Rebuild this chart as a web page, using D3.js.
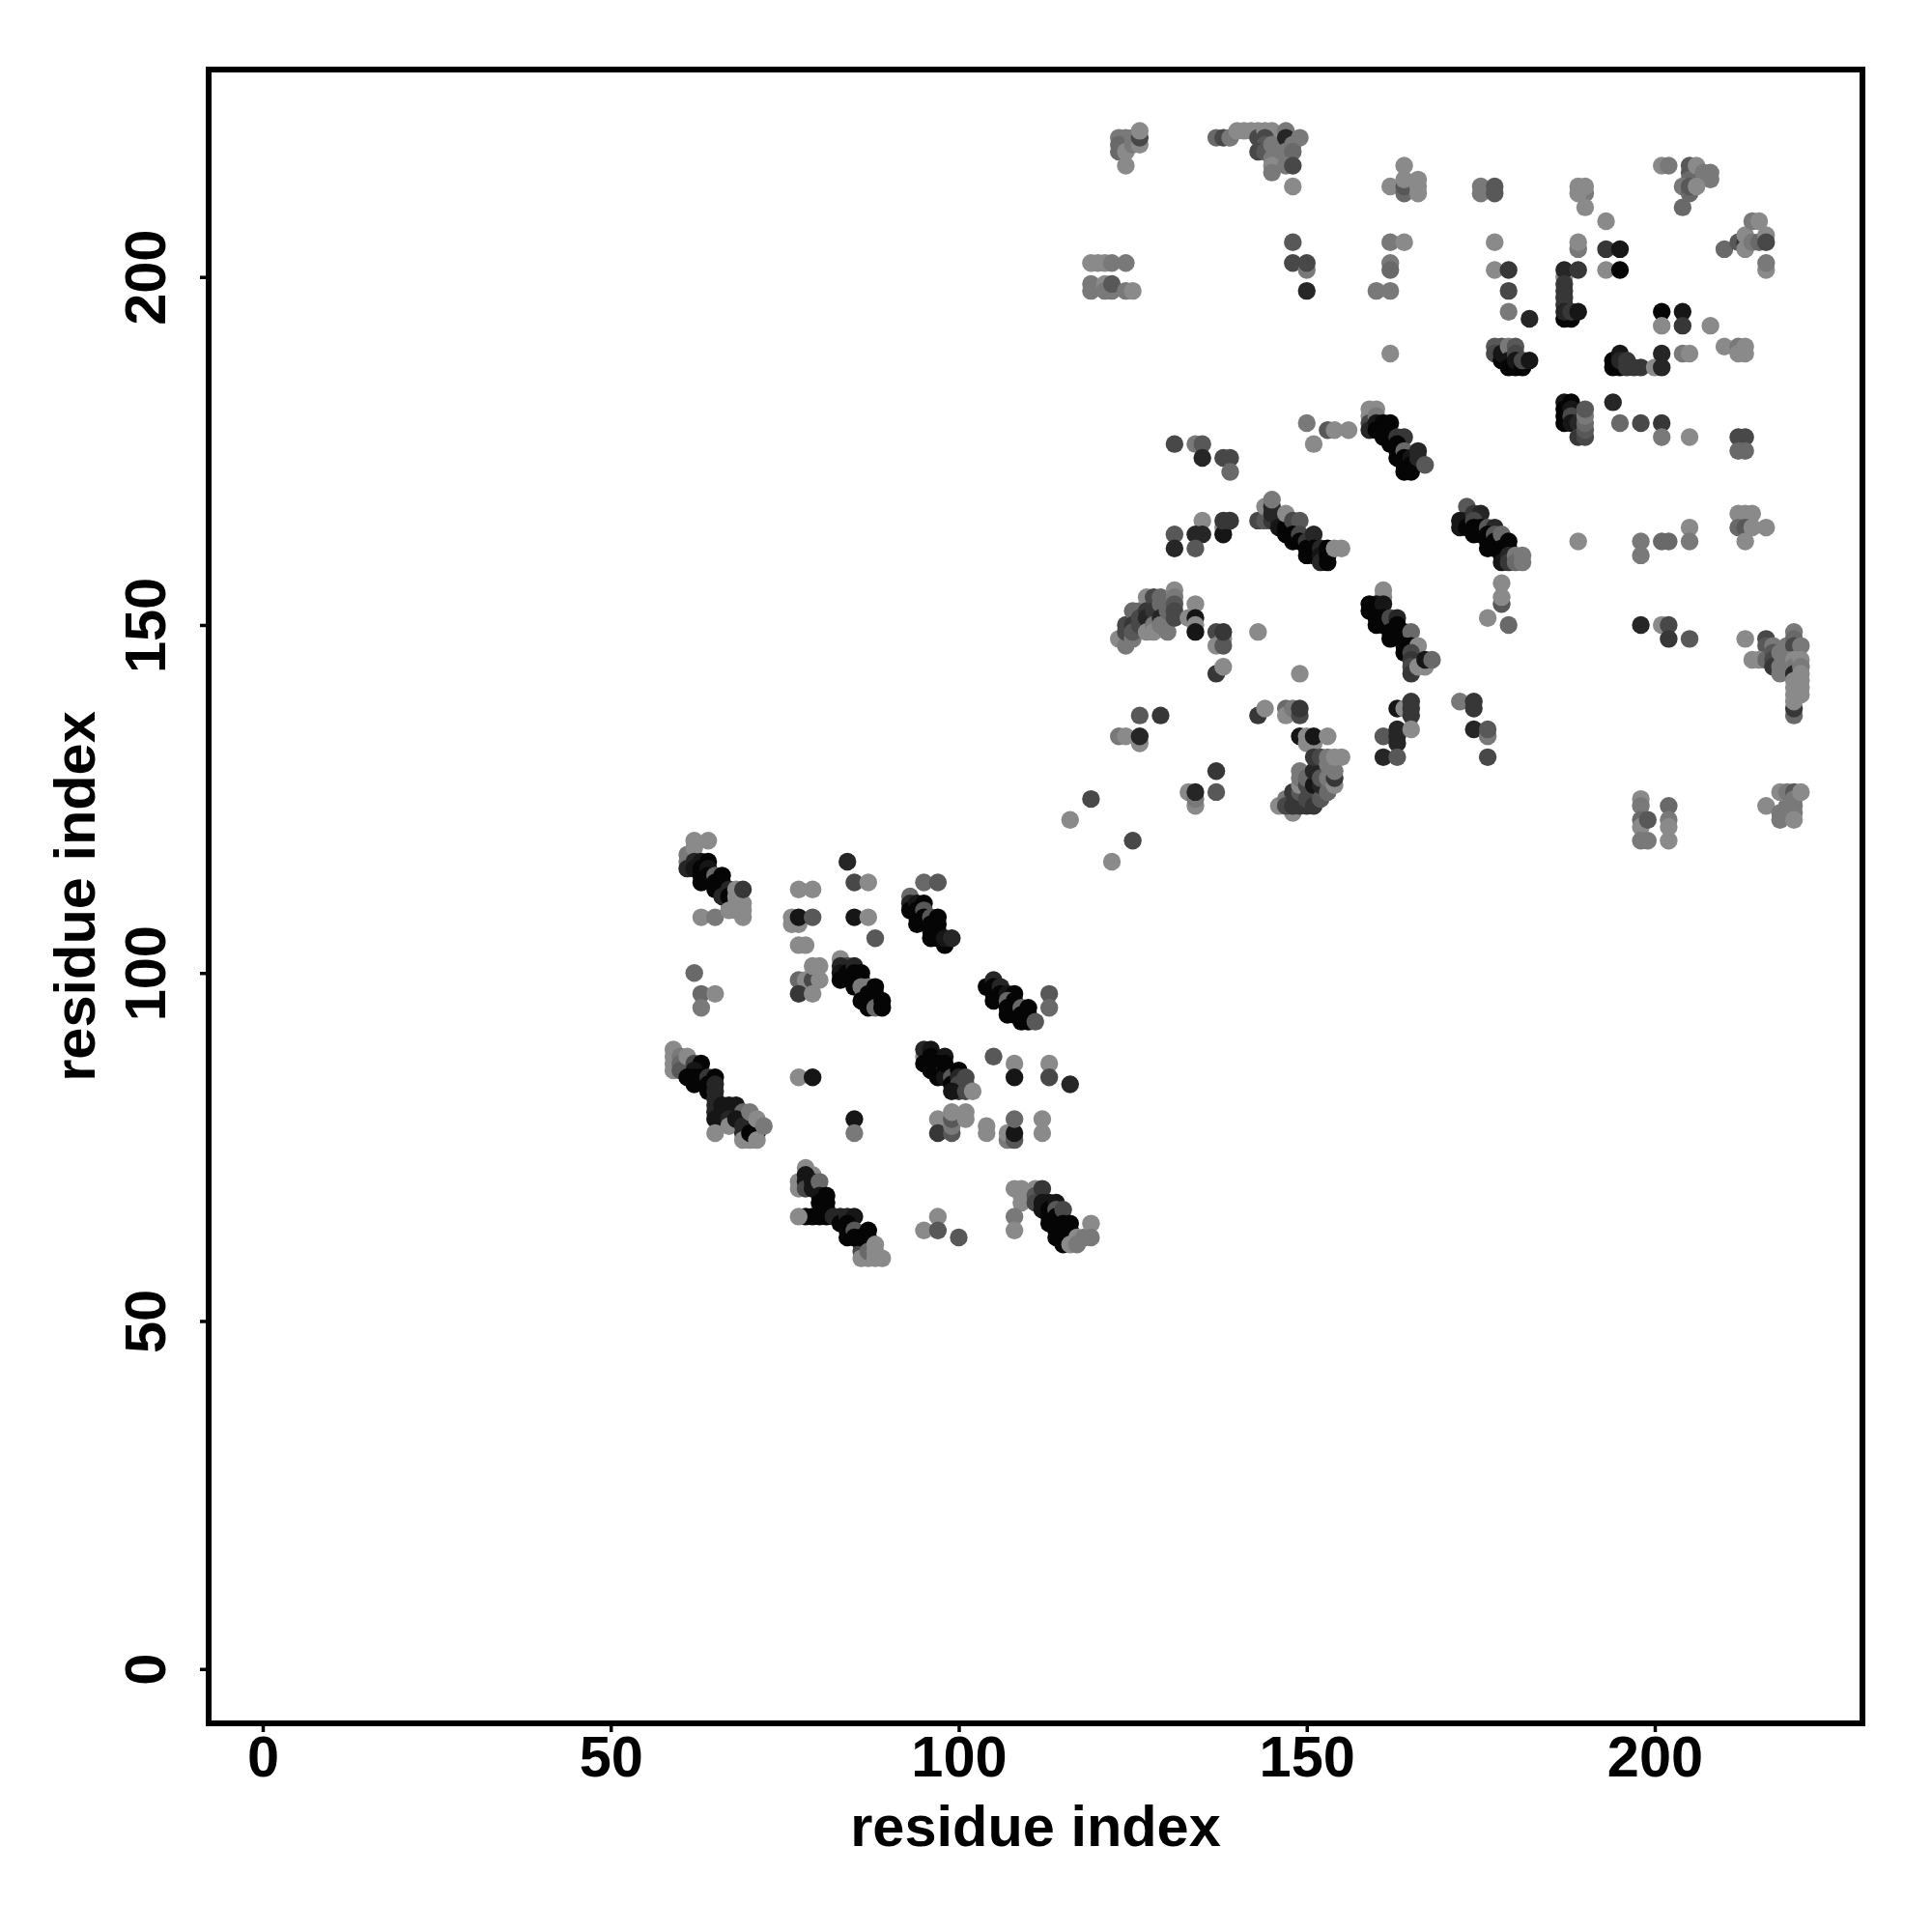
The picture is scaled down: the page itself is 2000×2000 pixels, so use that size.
<!DOCTYPE html>
<html>
<head>
<meta charset="utf-8">
<script src="https://cdn.jsdelivr.net/npm/d3@7"></script>
<style>html,body{margin:0;padding:0;background:#fff}svg{display:block}</style>
</head>
<body>
<svg id="chart" width="2000" height="2000"></svg>
<script>
// Each row: residue i, residue j, contact weight (1 = weak ... 9 = strong)
const blockA = [[62,119,1],[64,119,1],[61,117,2],[61,116,2],[62,118,1],[61,115,7],[62,116,7],[62,115,8],[63,116,8],[64,116,9],[63,115,9],[63,114,9],[64,115,8],[64,114,9],[63,113,9],[65,114,3],[65,113,9],[66,114,9],[66,113,9],[65,112,9],[66,112,9],[67,110,2],[66,111,7],[67,112,7],[67,111,9],[68,110,4],[68,112,1],[68,111,1],[69,110,1],[69,112,6],[63,108,1],[65,108,2],[67,109,1],[68,109,1],[69,109,1],[69,108,1]];
const blockB = [[77,112,1],[79,112,1],[76,108,1],[76,107,1],[77,107,1],[77,108,8],[79,108,4],[77,104,1],[78,104,1],[84,116,7],[85,113,5],[87,113,1],[85,108,8],[87,108,1],[88,105,4],[116,122,1],[122,116,1]];
const blockC = [[95,113,3],[97,113,4],[93,111,3],[93,110,7],[93,109,9],[94,110,8],[95,110,9],[94,109,9],[94,108,9],[94,107,9],[95,109,4],[95,108,9],[96,108,4],[96,107,9],[97,108,9],[97,107,9],[96,106,9],[97,106,9],[96,105,9],[97,105,9],[98,104,9],[98,105,8],[99,105,7]];
const blockD = [[62,100,3],[63,97,3],[65,97,1],[63,95,2],[77,99,3],[78,99,1],[79,99,5],[80,99,1],[79,101,1],[80,101,1],[77,97,6],[79,97,1]];
const blockE = [[83,102,1],[84,101,5],[83,101,7],[83,100,8],[83,99,9],[84,100,9],[85,101,7],[85,100,9],[86,100,9],[85,99,9],[85,98,9],[86,99,9],[86,98,2],[87,98,2],[86,96,9],[87,97,9],[87,96,9],[87,95,9],[88,98,9],[88,97,9],[88,96,9],[88,95,3],[89,96,9],[89,95,9]];
const blockF = [[104,98,9],[105,99,7],[105,98,9],[105,97,9],[105,96,9],[106,98,7],[106,97,9],[107,97,8],[108,97,9],[107,96,3],[107,95,9],[107,94,9],[108,96,9],[108,95,9],[108,94,9],[109,95,3],[109,94,9],[110,95,9],[110,94,9],[109,93,9],[110,93,9],[111,93,4],[113,97,4],[113,95,3]];
const blockG = [[59,89,1],[59,88,1],[59,87,1],[59,86,1],[60,88,2],[60,87,3],[60,86,4],[61,88,1],[62,87,5],[63,87,9],[62,86,8],[61,85,9],[62,85,9],[62,84,9],[63,85,9],[64,85,6],[64,84,9],[64,83,9],[65,85,9],[65,84,7],[65,83,7],[65,82,7],[65,81,7],[65,80,7],[65,79,8],[66,81,8],[66,80,8],[67,81,8],[67,80,8],[68,81,8],[67,79,7],[67,78,1],[69,80,3],[68,79,8],[69,78,7],[69,77,7],[70,80,2],[69,76,1],[70,76,1],[70,77,9],[71,77,9],[71,79,1],[71,76,1],[72,78,2],[65,77,1]];
const blockH = [[77,85,1],[79,85,8],[85,79,8],[85,77,2]];
const blockI = [[95,88,1],[95,89,7],[96,89,8],[95,87,9],[96,88,9],[96,87,9],[96,86,9],[98,88,8],[97,87,9],[98,86,4],[97,85,9],[98,85,8],[98,87,9],[99,85,4],[99,84,9],[100,86,9],[100,85,7],[100,84,5],[100,83,6],[101,85,5],[101,84,5],[99,83,8],[101,83,5],[102,83,1],[105,88,4],[108,87,1],[108,85,8],[113,87,1],[113,85,5],[116,84,7]];
const blockJ = [[97,79,1],[97,77,6],[99,77,4],[99,78,2],[99,79,4],[99,80,1],[101,80,1],[101,79,1],[104,78,1],[104,77,1],[107,76,2],[107,77,1],[108,76,4],[108,77,8],[108,79,3],[112,79,1],[112,77,1]];
const blockK = [[77,70,1],[77,69,1],[78,72,1],[79,71,1],[78,71,8],[78,70,8],[78,69,5],[79,70,8],[79,69,8],[80,70,3],[80,68,8],[80,67,9],[81,68,9],[81,67,9],[81,66,9],[81,65,9],[78,65,9],[79,65,9],[80,65,9],[77,65,1],[82,65,7],[83,65,7],[83,64,9],[84,65,7],[85,65,8],[84,64,9],[84,63,9],[84,62,9],[85,63,4],[86,61,6],[86,60,5],[87,63,9],[87,62,9],[86,62,9],[85,62,9],[86,59,1],[87,59,1],[87,60,3],[88,61,1],[88,60,1],[88,59,1],[89,59,1]];
const blockL = [[95,63,1],[97,65,1],[97,63,4],[100,62,4],[108,69,1],[109,69,1],[109,68,1],[109,67,1],[108,65,2],[108,63,1],[111,69,1],[110,68,1],[111,68,4],[111,67,5],[112,69,6],[112,67,8],[112,66,8],[113,67,8],[113,66,9],[113,65,9],[113,64,9],[114,67,8],[114,66,4],[114,65,9],[115,66,5],[116,64,9],[115,64,9],[115,63,9],[115,62,9],[116,63,9],[114,63,9],[114,62,9],[115,61,9],[116,61,1],[117,62,1],[117,61,2],[118,62,2],[119,64,1],[119,62,2]];

const blockM = [[131,176,5],[134,176,2],[135,176,4],[135,174,7],[138,174,5],[139,174,5],[139,172,3],[150,179,2],[153,178,4],[154,178,1],[156,178,1],[151,176,1]];
const blockN = [[159,181,1],[160,181,1],[159,180,1],[159,179,5],[159,178,7],[160,180,2],[160,179,8],[161,179,9],[162,179,9],[160,178,9],[161,178,9],[161,177,9],[162,177,9],[162,176,9],[163,177,6],[164,177,6],[163,176,9],[163,175,9],[163,174,9],[164,175,3],[164,174,9],[164,173,9],[165,174,8],[165,173,9],[164,172,9],[165,172,9],[166,175,7],[166,174,7],[167,173,4]];
const blockO = [[131,163,4],[131,161,7],[135,165,1],[134,163,7],[135,163,7],[134,161,4],[138,164,1],[138,163,8],[138,165,6],[139,165,6],[143,165,5],[144,165,4],[144,167,1],[145,165,6],[145,166,7],[145,167,7],[145,168,2]];
const blockP = [[146,165,7],[146,164,8],[147,164,9],[147,163,9],[147,166,1],[148,165,5],[149,165,4],[148,163,9],[148,162,9],[149,163,5],[149,162,9],[150,162,6],[150,161,9],[150,160,9],[151,163,7],[151,161,9],[151,160,9],[152,161,7],[152,160,8],[152,159,7],[153,160,9],[153,159,9],[153,161,9],[154,161,1],[155,161,1]];
const blockQ = [[123,148,1],[124,147,2],[124,149,5],[124,150,5],[125,148,2],[125,152,3],[125,150,6],[125,149,4],[126,152,3],[126,150,5],[126,151,5],[127,154,1],[127,152,6],[127,151,7],[127,149,1],[128,154,5],[128,152,6],[128,150,2],[128,149,1],[129,154,3],[129,153,3],[129,151,7],[129,150,2],[130,149,2],[130,152,3],[131,155,1],[131,154,2],[131,153,4],[131,152,5],[131,151,5],[133,151,1],[134,153,1],[134,151,8],[134,150,1],[134,149,8],[137,149,5],[137,147,1],[138,148,1],[138,147,4],[138,149,6],[137,143,6],[138,144,1],[143,149,1],[149,143,1]];
const blockR = [[161,155,1],[161,154,1],[160,153,8],[159,153,9],[159,152,9],[160,152,9],[161,153,8],[160,151,9],[160,150,9],[161,151,9],[161,150,9],[162,151,5],[162,149,9],[162,148,9],[163,151,7],[163,150,9],[163,149,9],[164,149,9],[164,148,9],[165,149,3],[164,147,9],[165,147,9],[166,147,1],[164,146,9],[165,146,5],[165,145,6],[165,144,5],[165,143,6],[166,144,1],[167,144,1],[167,145,8],[168,145,3]];
const blockS = [[126,137,4],[129,137,6],[123,134,2],[124,134,1],[126,133,1],[126,134,7],[137,129,6],[137,126,4],[133,126,1],[134,124,1],[134,125,2],[134,126,7],[119,125,5],[125,119,5],[143,137,6],[144,138,1],[147,138,3],[147,137,1],[148,138,2],[149,137,5],[149,138,6],[149,134,8],[150,134,1],[150,133,1],[151,133,1],[151,134,8],[153,134,1]];
const blockT = [[146,124,1],[147,125,2],[148,123,1],[147,124,5],[148,124,6],[148,126,6],[149,124,6],[149,126,4],[149,127,1],[149,128,2],[149,129,2],[150,124,6],[150,125,5],[150,127,5],[150,128,3],[151,124,6],[151,127,8],[151,129,7],[151,131,6],[152,125,4],[152,127,7],[152,128,4],[152,131,5],[153,126,3],[153,130,2],[153,131,2],[153,128,2],[154,127,1],[154,128,6],[154,129,2],[154,131,1],[155,131,1]];
const blockU = [[163,138,8],[164,138,1],[165,139,6],[165,138,6],[165,137,6],[161,134,4],[163,135,7],[163,134,7],[163,133,7],[165,135,1],[161,131,7],[163,131,4]];
const blockV = [[173,167,4],[172,165,8],[172,164,8],[173,165,8],[174,166,6],[173,164,9],[175,166,7],[174,165,5],[174,164,9],[174,163,9],[175,164,9],[175,163,9],[176,164,4],[177,164,7],[176,163,9],[176,162,9],[176,161,9],[177,163,4],[177,162,9],[177,161,9],[178,163,3],[178,161,9],[179,162,9],[179,161,9],[178,160,9],[178,159,8],[179,160,7],[179,159,6],[180,160,2],[180,159,3],[181,160,2],[181,159,2]];
const blockW = [[178,156,1],[178,153,4],[178,154,1],[176,151,1],[179,150,3],[189,162,1],[198,162,2],[198,160,2],[201,162,3],[202,162,3],[205,164,1],[205,162,2],[212,166,1],[213,166,1],[214,166,1],[212,164,3],[213,164,4],[214,164,1],[216,164,1],[213,162,1],[198,150,7],[201,150,1],[202,150,5],[202,148,6],[205,148,4]];
const blockX = [[213,148,1],[216,148,5],[216,147,4],[217,147,2],[214,145,1],[215,145,1],[216,145,3],[217,146,4],[217,145,5],[217,144,6],[218,146,2],[218,144,2],[218,143,2],[219,147,2],[220,149,2],[220,148,3],[220,147,5],[221,147,2],[219,145,2],[220,145,1],[220,144,2],[220,143,7],[220,137,3],[220,138,6],[220,139,1],[220,140,1],[220,141,1],[220,142,1],[221,145,1],[221,144,2],[221,143,1],[221,142,1],[221,141,1],[221,140,1]];
const blockY = [[172,139,2],[174,139,6],[174,138,6],[174,135,7],[176,134,2],[176,135,4],[176,131,5],[198,125,1],[198,124,2],[198,122,3],[198,121,1],[199,122,4],[198,119,2],[199,119,2],[202,124,3],[202,122,2],[202,121,1],[202,119,1],[216,124,1],[218,123,2],[218,122,2],[219,123,2],[219,124,2],[218,126,1],[219,126,2],[220,126,4],[220,125,2],[220,124,2],[220,123,2],[220,122,1],[221,126,1]];
const blockZ = [[123,220,2],[124,220,2],[123,219,3],[123,218,3],[124,218,1],[124,216,1],[125,219,2],[125,220,2],[126,219,1],[126,220,5],[126,221,1],[137,220,3],[138,220,5],[139,220,2],[140,221,1],[141,221,1],[142,221,1],[143,221,1],[143,220,5],[144,221,1],[145,221,1],[144,220,5],[144,219,4],[143,218,5],[144,218,4],[145,219,2],[145,217,2],[145,216,1],[145,215,2],[147,221,2],[147,220,7],[149,220,2],[148,219,2],[147,218,2],[148,218,3],[147,216,2],[148,216,5],[148,213,1],[148,205,4],[148,202,5],[150,201,2],[150,202,5],[150,198,7],[119,202,1],[120,202,1],[121,202,1],[122,202,2],[124,202,2],[119,199,2],[119,198,2],[121,199,1],[121,198,2],[122,198,2],[122,199,4],[124,198,2],[125,198,1]];
const blockAA = [[162,205,2],[164,205,1],[162,202,2],[162,201,3],[160,198,2],[162,198,2],[162,189,1],[164,216,1],[162,213,1],[164,212,3],[164,213,4],[164,214,1],[166,214,1],[166,213,1],[166,212,1]];
const blockAB = [[175,213,2],[175,212,2],[177,213,4],[177,212,4],[189,213,1],[190,212,2],[189,212,1],[190,213,1],[190,210,1],[193,208,1],[177,205,1],[177,201,1],[179,201,6],[179,198,5],[179,195,2],[182,194,7],[187,200,1],[187,201,7],[189,201,6],[187,199,6],[187,198,6],[187,197,6],[187,196,6],[187,194,9],[188,194,9],[187,195,7],[188,195,6],[189,195,8],[189,204,2],[189,205,1],[193,204,6],[195,204,8],[193,201,1],[195,201,9],[201,195,9],[204,195,8],[201,193,1],[204,193,6],[208,193,1]];
const blockAC = [[177,190,4],[178,190,4],[177,189,5],[178,188,9],[178,189,8],[179,190,2],[179,188,8],[179,187,9],[180,190,4],[180,189,5],[180,187,9],[180,188,8],[181,187,9],[181,188,5],[182,188,8],[194,188,9],[194,187,9],[195,187,9],[195,189,8],[195,188,7],[196,188,6],[196,187,6],[197,187,6],[198,187,6],[200,187,1],[201,187,7],[201,189,7],[204,189,2],[205,189,1],[210,190,1],[212,190,2],[212,189,1],[213,190,1],[213,189,1]];
const blockAD = [[201,216,1],[202,216,2],[205,216,4],[205,215,4],[205,214,3],[206,216,1],[207,215,2],[208,215,2],[208,214,2],[204,213,2],[205,212,3],[205,213,4],[206,213,1],[204,210,3],[210,204,3],[212,205,4],[213,205,6],[213,206,1],[213,204,1],[214,205,2],[215,205,3],[214,208,2],[215,208,1],[216,206,1],[216,205,5],[216,201,1],[216,202,2]];
const blockAE = [[187,182,8],[188,182,9],[187,181,9],[187,180,9],[187,179,9],[188,181,8],[188,180,5],[188,179,8],[189,179,7],[189,177,6],[190,177,5],[190,178,4],[190,179,3],[190,180,2],[190,181,4],[194,182,7],[195,179,3],[198,179,5],[201,179,6],[201,177,2],[205,177,1],[212,177,5],[213,177,5],[212,175,3],[213,175,3]];

const contactBlocks = [blockA, blockB, blockC, blockD, blockE, blockF, blockG, blockH, blockI, blockJ, blockK, blockL, blockM, blockN, blockO, blockP, blockQ, blockR, blockS, blockT, blockU, blockV, blockW, blockX, blockY, blockZ, blockAA, blockAB, blockAC, blockAD, blockAE];
const tickValues = [0, 50, 100, 150, 200];
const axisLabel = "residue index";

const svg = d3.select("#chart");
const panelLeft = 216, panelRight = 1928, panelTop = 72, panelBottom = 1784;
const x = d3.scaleLinear().domain([-7.77, 229.84]).range([panelLeft, panelRight]);
const y = d3.scaleLinear().domain([-7.81, 229.8]).range([panelBottom, panelTop]);
const grey = d3.scaleLinear().domain([1, 9]).range(["#8a8a8a", "#050505"]);
const font = "'Liberation Sans', Arial, sans-serif";

svg.append("g").selectAll("g").data(contactBlocks).join("g")
  .selectAll("circle").data(d => d).join("circle")
  .attr("cx", d => x(d[0])).attr("cy", d => y(d[1])).attr("r", 9.2)
  .attr("fill", d => grey(d[2]));

svg.append("rect").attr("x", panelLeft).attr("y", panelTop)
  .attr("width", panelRight - panelLeft).attr("height", panelBottom - panelTop)
  .attr("fill", "none").attr("stroke", "#000").attr("stroke-width", 6);

const xAxis = svg.append("g").attr("transform", `translate(0,${panelBottom})`)
  .call(d3.axisBottom(x).tickValues(tickValues).tickSize(9).tickPadding(0));
const yAxis = svg.append("g").attr("transform", `translate(${panelLeft},0)`)
  .call(d3.axisLeft(y).tickValues(tickValues).tickSize(9).tickPadding(0));
[xAxis, yAxis].forEach(a => {
  a.select(".domain").remove();
  a.selectAll(".tick line").attr("stroke", "#000").attr("stroke-width", 3.5);
  a.selectAll(".tick text").attr("fill", "#000")
    .style("font", `bold 59.5px ${font}`);
});
xAxis.selectAll(".tick text").attr("y", null).attr("dy", null)
  .attr("text-anchor", "middle")
  .attr("transform", "translate(0,55)");
yAxis.selectAll(".tick text").attr("x", null).attr("dy", null)
  .attr("text-anchor", "middle")
  .attr("transform", "translate(-45,0) rotate(-90)");

svg.append("text").text(axisLabel)
  .attr("x", (panelLeft + panelRight) / 2).attr("y", 1911)
  .attr("text-anchor", "middle").attr("fill", "#000")
  .style("font", `bold 59.5px ${font}`);
svg.append("text").text(axisLabel)
  .attr("transform", `translate(98,${(panelTop + panelBottom) / 2}) rotate(-90)`)
  .attr("text-anchor", "middle").attr("fill", "#000")
  .style("font", `bold 59.5px ${font}`);
</script>
</body>
</html>
